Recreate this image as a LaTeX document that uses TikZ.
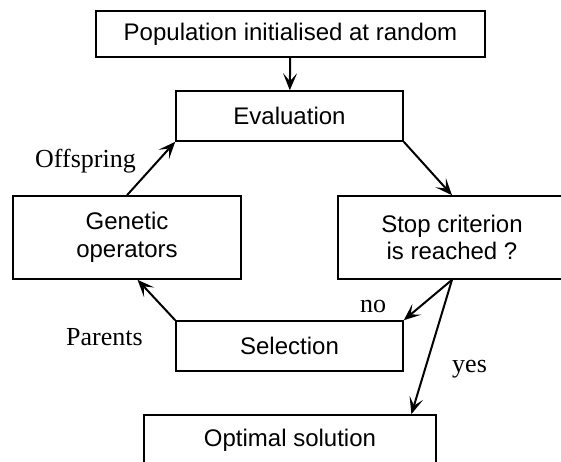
\documentclass[tikz,border=0pt]{standalone}
\usepackage{fontspec}
\setmainfont{Liberation Serif}
\setsansfont{Liberation Sans}
\usetikzlibrary{arrows.meta}

\begin{document}
\begin{tikzpicture}[x=1pt,y=1pt]

\tikzset{stage/.style = {shape=rectangle,draw,line width=1.6pt,inner sep=0pt,align=center,
  font=\sffamily\fontsize{24}{27.7}\selectfont}}
\tikzset{edge/.style = {line width=2pt,-{Stealth[length=17pt,width=14pt,inset=8pt]}}}
\tikzset{lbl/.style = {inner sep=0pt,anchor=base west,font=\fontsize{26}{28}\selectfont}}
\useasboundingbox (0,0) rectangle (561,-461);
\node[stage,minimum width=389,minimum height=46] (pop) at (290.5,-34) {Population initialised at random};
\node[stage,minimum width=227,minimum height=50] (eval) at (289.5,-116) {Evaluation};
\node[stage,minimum width=228,minimum height=83] (gen) at (127,-237.5) {Genetic\\operators};
\node[stage,minimum width=228,minimum height=83] (stop) at (452,-237.5) {Stop criterion\\is reached ?};
\node[stage,minimum width=227,minimum height=50] (sel) at (289.5,-346) {Selection};
\node[stage,minimum width=292,minimum height=50] (opt) at (290,-440) {Optimal solution};
%labels
\node[lbl] (off) at (35,-167) {Offspring};
\node[lbl] (par) at (66,-345) {Parents};
\node[lbl] (no) at (360,-312) {no};
\node[lbl] (yes) at (452,-372) {yes};
%edges
\draw[edge] (pop) to (eval);
\draw[edge] (eval.south east) to (stop.north);
\draw[edge] (stop.south) to (sel.north east);
\draw[edge] (stop.south) to (opt.12.5);
\draw[edge] (sel.north west) to (gen.-76);
\draw[edge] (gen.north) to (eval.south west);
\end{tikzpicture}
\end{document}
